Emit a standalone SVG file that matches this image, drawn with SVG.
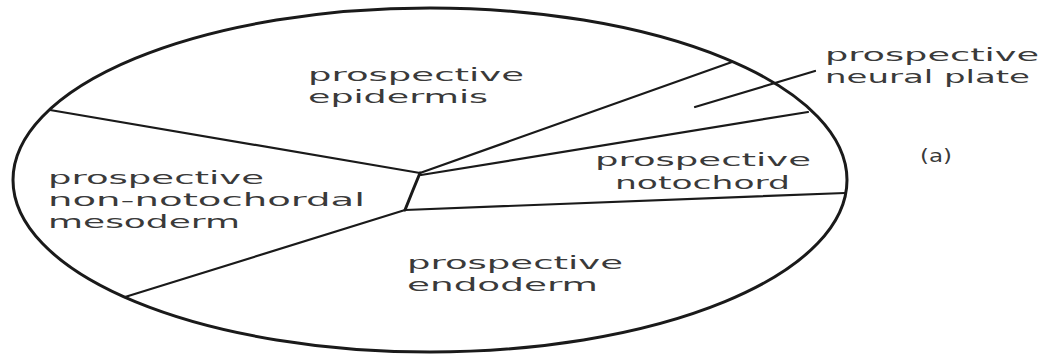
<svg xmlns="http://www.w3.org/2000/svg" width="1053" height="355" viewBox="0 0 1053 355">
<style>
.t{font-family:"DejaVu Sans","Liberation Sans",sans-serif;font-size:18px;fill:#3a3a3a;}
.ln{stroke:#1a1a1a;stroke-width:2.2;fill:none;stroke-linecap:round;}
.out{stroke:#1a1a1a;stroke-width:3;fill:#fff;}
</style>
<rect width="1053" height="355" fill="#fff"/>
<g id="outline"><ellipse class="out" cx="430" cy="180" rx="417" ry="172"/></g>
<g id="connectors">
<line class="ln" x1="50" y1="110" x2="420" y2="173"/>
<line class="ln" x1="420" y1="173" x2="732" y2="62"/>
<line class="ln" x1="421" y1="175" x2="808" y2="112"/>
<polyline class="ln" points="420,173 413,190 405,210" style="stroke-width:3"/>
<line class="ln" x1="405" y1="210" x2="845" y2="193"/>
<line class="ln" x1="405" y1="210" x2="125" y2="297"/>
<line class="ln" x1="695" y1="107" x2="815" y2="71"/>
</g>
<g id="epidermis">
<text class="t" x="308" y="81" textLength="216" lengthAdjust="spacingAndGlyphs">prospective</text>
<text class="t" x="308" y="103" textLength="180" lengthAdjust="spacingAndGlyphs">epidermis</text>
</g>
<g id="neural-plate">
<text class="t" x="825" y="61" textLength="214" lengthAdjust="spacingAndGlyphs">prospective</text>
<text class="t" x="825" y="83" textLength="205" lengthAdjust="spacingAndGlyphs">neural plate</text>
</g>
<g id="notochord">
<text class="t" x="595" y="166" textLength="216" lengthAdjust="spacingAndGlyphs">prospective</text>
<text class="t" x="615" y="189" textLength="175" lengthAdjust="spacingAndGlyphs">notochord</text>
</g>
<g id="mesoderm">
<text class="t" x="48" y="184" textLength="216" lengthAdjust="spacingAndGlyphs">prospective</text>
<text class="t" x="48" y="206" textLength="317" lengthAdjust="spacingAndGlyphs">non-notochordal</text>
<text class="t" x="48" y="228" textLength="192" lengthAdjust="spacingAndGlyphs">mesoderm</text>
</g>
<g id="endoderm">
<text class="t" x="407" y="269" textLength="216" lengthAdjust="spacingAndGlyphs">prospective</text>
<text class="t" x="407" y="291" textLength="191" lengthAdjust="spacingAndGlyphs">endoderm</text>
</g>
<g id="label-a">
<text class="t" x="920" y="162" textLength="32" lengthAdjust="spacingAndGlyphs">(a)</text>
</g>
</svg>
